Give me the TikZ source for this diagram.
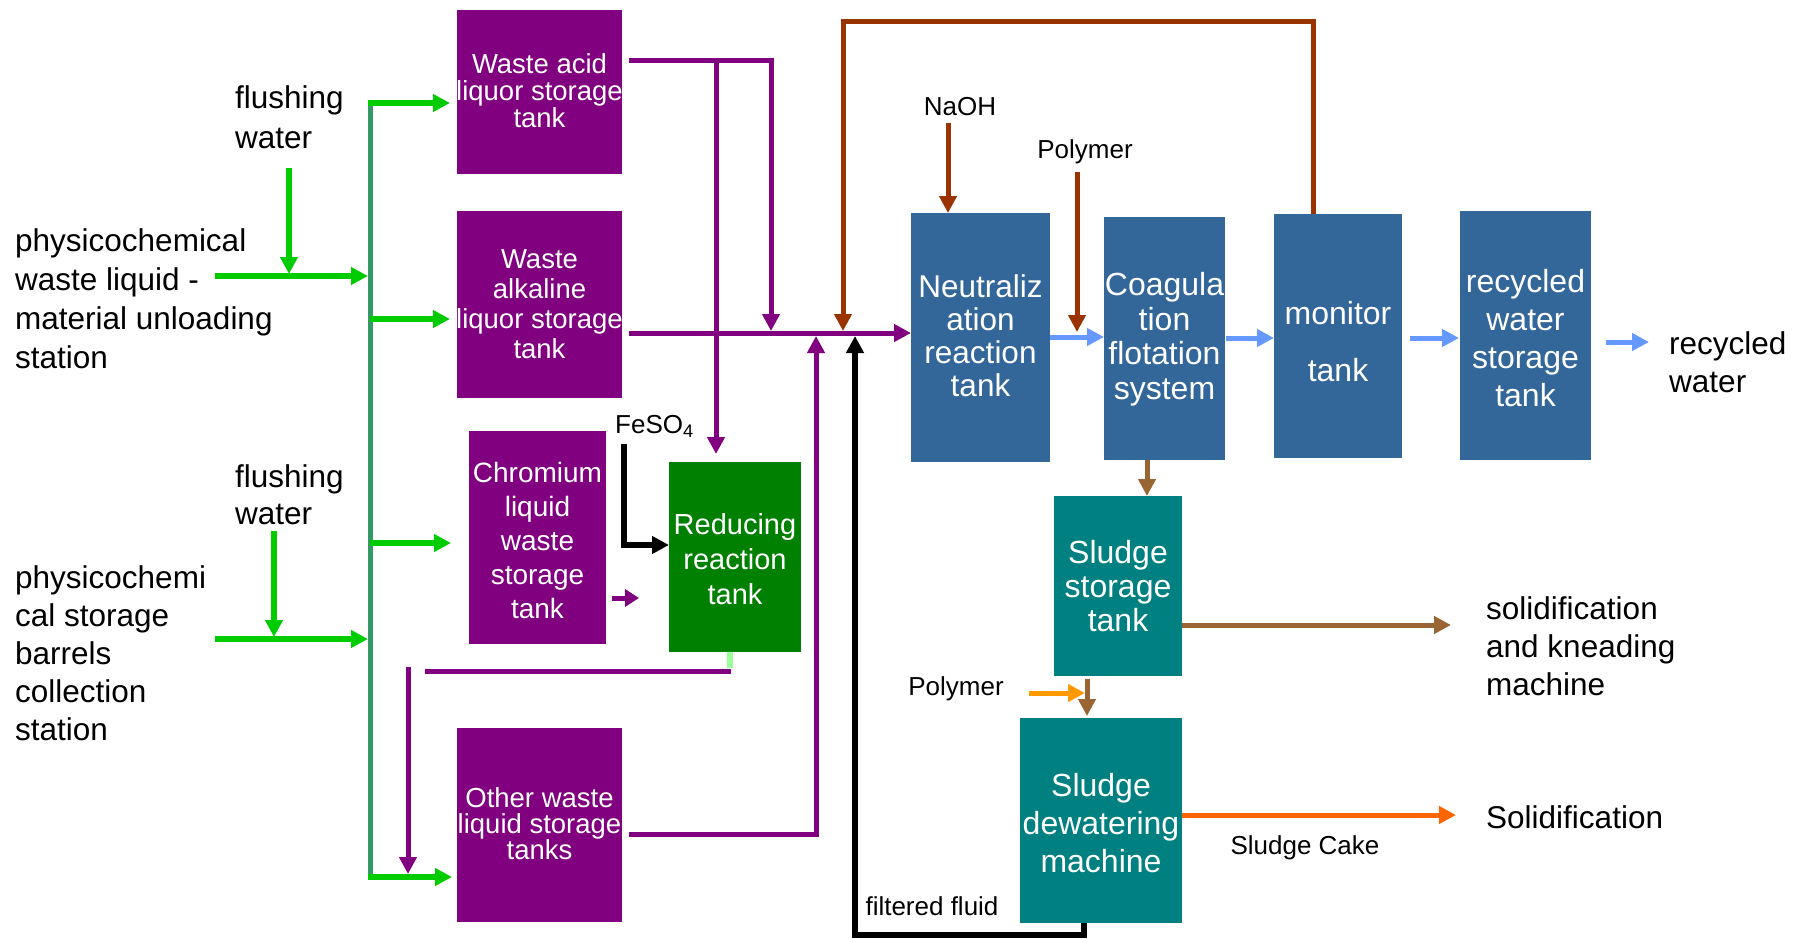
\documentclass[tikz,border=0pt]{standalone}
\usepackage{fontspec}
\setmainfont{Liberation Sans}
\usetikzlibrary{arrows.meta}
\newcommand\setfs[2]{\fontsize{#1pt}{#2pt}\selectfont}
\definecolor{cpurple}{HTML}{800080}
\definecolor{cblue}{HTML}{336699}
\definecolor{cgreen}{HTML}{00CC00}
\definecolor{ctrunk}{HTML}{339966}
\definecolor{cboxgreen}{HTML}{008000}
\definecolor{cteal}{HTML}{008080}
\definecolor{clblue}{HTML}{6699FF}
\definecolor{cbrown}{HTML}{993300}
\definecolor{csludge}{HTML}{996633}
\definecolor{corange}{HTML}{FF9900}
\definecolor{corangeb}{HTML}{FF6600}
\definecolor{clgreen}{HTML}{99FF99}
\tikzset{
  tankbox/.style={inner sep=0pt, outer sep=0pt, draw=none},
  intext/.style={text=white, align=center, inner sep=0pt},
  lbl/.style={text=black, align=left, inner sep=0pt, anchor=west},
  small/.style={text=black, inner sep=0pt, font=\setfs{26}{30}},
  tipA/.style={-{Triangle[length=17pt,width=17pt]}},
  garr/.style={draw=cgreen, line width=6pt, tipA},
  trunkline/.style={draw=ctrunk, line width=5pt},
  parr/.style={draw=cpurple, line width=5pt, tipA},
  pline/.style={draw=cpurple, line width=5pt},
  brarr/.style={draw=cbrown, line width=5pt, tipA},
  barr/.style={draw=black, line width=6pt, tipA},
  blarr/.style={draw=clblue, line width=5pt, tipA},
  sarr/.style={draw=csludge, line width=5pt, tipA},
  oarr/.style={draw=corange, line width=5pt, tipA},
  obarr/.style={draw=corangeb, line width=5pt, tipA},
}
\begin{document}
\begin{tikzpicture}[x=1pt,y=-1pt]
\useasboundingbox (0,0) rectangle (1801,939);

% ---------- boxes ----------
\node[tankbox,fill=cpurple,minimum width=165pt,minimum height=164pt] (acid) at (539.5,92) {};
\node[tankbox,fill=cpurple,minimum width=165pt,minimum height=187pt] (alk) at (539.5,304.5) {};
\node[tankbox,fill=cpurple,minimum width=137pt,minimum height=213pt] (chrom) at (537.5,537.5) {};
\node[tankbox,fill=cboxgreen,minimum width=132pt,minimum height=190pt] (red) at (735,557) {};
\node[tankbox,fill=cpurple,minimum width=165pt,minimum height=194pt] (other) at (539.5,825) {};
\node[tankbox,fill=cblue,minimum width=139pt,minimum height=249pt] (neut) at (980.5,337.5) {};
\node[tankbox,fill=cblue,minimum width=121pt,minimum height=243pt] (coag) at (1164.5,338.5) {};
\node[tankbox,fill=cblue,minimum width=128pt,minimum height=244pt] (mon) at (1338,336) {};
\node[tankbox,fill=cblue,minimum width=131pt,minimum height=249pt] (rec) at (1525.5,335.5) {};
\node[tankbox,fill=cteal,minimum width=128pt,minimum height=180pt] (sst) at (1118,586) {};
\node[tankbox,fill=cteal,minimum width=162pt,minimum height=205pt] (dew) at (1101,820.5) {};

% ---------- box texts ----------
\node[intext,font=\setfs{27.5}{27}] (acidT) at (539.5,91) {Waste acid\\liquor storage\\tank};
\node[intext,font=\setfs{27.5}{30}] (alkT) at (539.5,304) {Waste\\alkaline\\liquor storage\\tank};
\node[intext,font=\setfs{28}{34}] (chromT) at (537.5,540) {Chromium\\liquid\\waste\\storage\\tank};
\node[intext,font=\setfs{29}{35}] (redT) at (735,559) {Reducing\\reaction\\tank};
\node[intext,font=\setfs{27.5}{26}] (otherT) at (539.5,824) {Other waste\\liquid storage\\tanks};
\node[intext,font=\setfs{31.5}{33}] (neutT) at (980.5,336) {Neutraliz\\ation\\reaction\\tank};
\node[intext,font=\setfs{32}{34.5}] (coagT) at (1164.5,339) {Coagula\\tion\\flotation\\system};
\node[intext,font=\setfs{32}{36}] (monT) at (1338,342) {monitor\\[21pt]tank};
\node[intext,font=\setfs{32}{38}] (recT) at (1525.5,338) {recycled\\water\\storage\\tank};
\node[intext,font=\setfs{32}{34}] (sstT) at (1118,586) {Sludge\\storage\\tank};
\node[intext,font=\setfs{32}{38}] (dewT) at (1101,823) {Sludge\\dewatering\\machine};

% ---------- labels ----------
\node[lbl,font=\setfs{31.5}{39}] (src1) at (15,299) {physicochemical\\waste liquid -\\material unloading\\station};
\node[lbl,font=\setfs{31.5}{38}] (src2) at (15,653) {physicochemi\\cal storage\\barrels\\collection\\station};
\node[lbl,font=\setfs{31.5}{40}] (fw1) at (235,117) {flushing\\water};
\node[lbl,font=\setfs{31.5}{37}] (fw2) at (235,495) {flushing\\water};
\node[lbl,font=\setfs{31.5}{38}] (rwT) at (1669,362) {recycled\\water};
\node[lbl,font=\setfs{31.5}{38}] (knT) at (1486,646) {solidification\\and kneading\\machine};
\node[lbl,font=\setfs{31.5}{38}] (solT) at (1486,817) {Solidification};
\node[small] (naoh) at (960,107) {NaOH};
\node[small] (poly1) at (1085,152) {Polymer};
\node[small] (poly2) at (956,689) {Polymer};
\node[small] (cake) at (1305,848) {Sludge Cake};
\node[small] (filt) at (932,906) {filtered fluid};
\node[small,anchor=west] (feso) at (615,426) {FeSO\textsubscript{4}};

% ---------- green inputs ----------
\coordinate (trTop) at (370,103);
\coordinate (tr2) at (370,319);
\coordinate (tr3) at (370,543);
\coordinate (trBot) at (370,877);
\draw[trunkline] (trTop) -- ([yshift=1pt]trBot);
\draw[garr,shorten >=7pt] ([xshift=-2pt]trTop) -- (trTop -| acid.west);
\draw[garr,shorten >=7pt] (tr2) -- (tr2 -| alk.west);
\draw[garr,shorten >=18pt] (tr3) -- (tr3 -| chrom.west);
\draw[garr,shorten >=5pt] ([xshift=-2pt]trBot) -- (trBot -| other.west);
\coordinate (in1) at (215,276);
\coordinate (in2) at (215,639);
\draw[garr,shorten >=2pt] (in1) -- (in1 -| trTop);
\draw[garr,shorten >=2pt] (in2) -- (in2 -| trTop);
\coordinate (f1) at (289,168);
\coordinate (f2) at (274,531);
\draw[garr,shorten >=2pt] (f1) -- (f1 |- in1);
\draw[garr,shorten >=2pt] (f2) -- (f2 |- in2);

% ---------- purple lines ----------
\coordinate (aOut) at (629,61);
\coordinate (aBend) at (771,61);
\coordinate (aBr) at (716,61);
\coordinate (mainIn) at (629,333);
\draw[parr,shorten >=2pt] (aOut) -- (aBend) -- (aBend |- mainIn);
\draw[parr,shorten >=8pt] (aBr) -- (aBr |- red.north);
\draw[parr] (mainIn) -- (mainIn -| neut.west);
\coordinate (oOut) at (629,834);
\coordinate (oBend) at (816,834);
\draw[parr,shorten >=3pt] (oOut) -- (oBend) -- (oBend |- mainIn);
\coordinate (cr1) at (612,598);
\draw[draw=cpurple,line width=5pt,-{Triangle[length=14pt,width=17pt]}] (cr1) -- (639,598);
\coordinate (rOut) at (730,652);
\coordinate (rBend) at (731,671);
\draw[draw=clgreen,line width=6pt] (rOut) -- (730,668);
\draw[pline] (rBend) -- (425,671);
\coordinate (dn) at (408,667);
\draw[parr,shorten >=3pt] (dn) -- (dn |- trBot);

% ---------- brown ----------
\coordinate (na) at (948,123);
\draw[brarr] (na) -- (na |- neut.north);
\coordinate (po) at (1077,172);
\draw[brarr,shorten >=1pt] (po) -- (po |- mainIn);
\coordinate (lpR) at (1313,22);
\coordinate (lpL) at (843,22);
\draw[brarr,shorten >=2pt] (lpR |- mon.north) -- (lpR) -- (lpL) -- (lpL |- mainIn);

% ---------- black ----------
\coordinate (fe) at (624,444);
\coordinate (feB) at (624,545);
\draw[barr] (fe) -- (feB) -- (feB -| red.west);
\coordinate (fR) at (1084,935);
\coordinate (fL) at (855,935);
\draw[barr,shorten >=3pt] (fR |- dew.south) -- (fR) -- (fL) -- (fL |- mainIn);

% ---------- blue ----------
\coordinate (b1) at (1050,337);
\coordinate (b2) at (1226,338);
\coordinate (b3) at (1410,338);
\coordinate (b4) at (1606,342);
\draw[blarr] (b1) -- (b1 -| coag.west);
\draw[blarr] (b2) -- (b2 -| mon.west);
\draw[blarr,shorten >=1pt] (b3) -- (b3 -| rec.west);
\draw[blarr] (b4) -- (1649,342);

% ---------- sludge ----------
\coordinate (s1) at (1147,460);
\draw[sarr] (s1) -- (s1 |- sst.north);
\coordinate (s2) at (1182,625);
\draw[sarr] (s2) -- (1451,625);
\coordinate (s3) at (1087,679);
\draw[sarr,shorten >=2pt] (s3) -- (s3 |- dew.north);
\coordinate (o1) at (1029,693);
\draw[oarr] (o1) -- (1085,693);
\coordinate (o2) at (1182,815);
\draw[obarr] (o2) -- (1456,815);
\end{tikzpicture}
\end{document}
